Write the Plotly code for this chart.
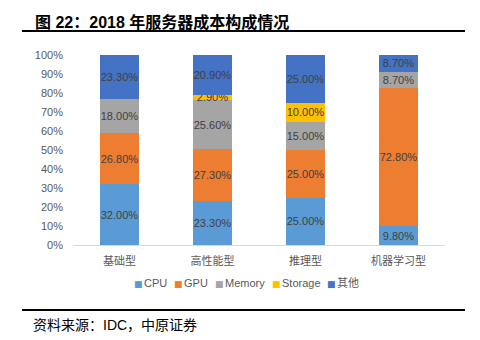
import plotly.graph_objects as go

categories = ["基础型", "高性能型", "推理型", "机器学习型"]
series_names = ["CPU", "GPU", "Memory", "Storage", "其他"]
cpu = [32.0, 23.3, 25.0, 9.8]
gpu = [26.8, 27.3, 25.0, 72.8]
memory = [18.0, 25.6, 15.0, 8.7]
storage = [None, 2.9, 10.0, None]
other = [23.3, 20.9, 25.0, 8.7]
series_values = [cpu, gpu, memory, storage, other]
colors = ["#5B9BD5", "#ED7D31", "#A5A5A5", "#FFC000", "#4472C4"]
y_ticks = [0, 10, 20, 30, 40, 50, 60, 70, 80, 90, 100]
y_tick_labels = [f"{v}%" for v in y_ticks]

W, H = 480, 340
L, R, T, B = 73, 445, 55, 245

def px_x(x):
    return (x - L) / (R - L)

def px_y(y):
    return (B - y) / (B - T)

CJK = "Liberation Sans, Noto Sans CJK SC, sans-serif"

fig = go.Figure()
for name, vals, c in zip(series_names, series_values, colors):
    fig.add_trace(go.Bar(
        x=categories, y=vals, name=name,
        marker=dict(color=c, line=dict(width=0)),
        texttemplate="%{y:.2f}%", textposition="inside", textangle=0,
        insidetextanchor="middle",
        textfont=dict(size=11, color="#404040", family=CJK),
        hoverinfo="skip", showlegend=False,
    ))

fig.update_layout(
    barmode="stack", bargap=0.59,
    width=W, height=H,
    margin=dict(l=L, r=W - R, t=T, b=H - B, pad=0),
    paper_bgcolor="white", plot_bgcolor="white",
    font=dict(family=CJK, color="#595959", size=11),
    uniformtext=dict(minsize=11, mode="show"),
    showlegend=False,
    xaxis=dict(showline=True, linecolor="#D9D9D9", linewidth=1, ticks="",
               ticklabelstandoff=6,
               tickfont=dict(size=11, color="#595959", family="Noto Sans CJK SC"),
               fixedrange=True),
    yaxis=dict(range=[0, 100], tickvals=y_ticks, ticktext=y_tick_labels,
               showgrid=False, zeroline=False, showline=False, ticks="",
               ticklabelstandoff=9,
               tickfont=dict(size=11, color="#595959"), fixedrange=True),
)

# legend (manual, to match compact spacing)
legend_sq_x = [135, 175, 216, 273, 328]
for name, c, sx in zip(series_names, colors, legend_sq_x):
    fig.add_annotation(xref="paper", yref="paper", x=px_x(sx + 3), y=px_y(284),
                       xanchor="center", yanchor="middle", showarrow=False,
                       text="■", font=dict(size=9, color=c, family="DejaVu Sans"))
    fig.add_annotation(xref="paper", yref="paper", x=px_x(sx + 7), y=px_y(283),
                       xanchor="left", yanchor="middle", showarrow=False,
                       text=name, font=dict(size=11, color="#595959", family=CJK))

fig.add_annotation(xref="paper", yref="paper", x=px_x(33), y=px_y(22),
                   xanchor="left", yanchor="middle", showarrow=False,
                   text="<b>图 22：2018 年服务器成本构成情况</b>",
                   font=dict(size=16, color="#000000", family=CJK))
fig.add_shape(type="line", xref="paper", yref="paper",
              x0=px_x(22), x1=px_x(465), y0=px_y(31), y1=px_y(31),
              line=dict(color="#000000", width=2))
fig.add_shape(type="line", xref="paper", yref="paper",
              x0=px_x(22), x1=px_x(465), y0=px_y(310), y1=px_y(310),
              line=dict(color="#000000", width=2))
fig.add_annotation(xref="paper", yref="paper", x=px_x(31), y=px_y(325),
                   xanchor="left", yanchor="middle", showarrow=False,
                   text="资料来源：IDC，中原证券",
                   font=dict(size=14, color="#000000", family=CJK))

fig.write_html("out.html")
